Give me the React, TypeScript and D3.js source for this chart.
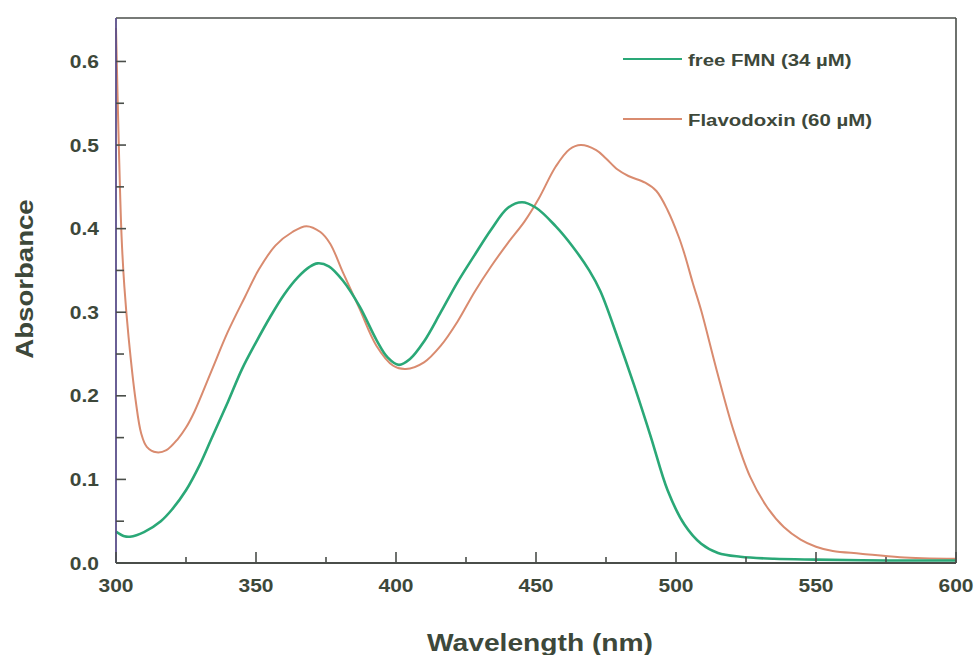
import React from "react";
import * as d3 from "d3";

// Absorbance spectra: wavelength (nm) and absorbance pairs
const fmnWavelength = [300, 303, 305, 310, 316, 320, 325, 330, 334, 340, 345, 350, 355, 360, 365, 369, 372, 376, 381, 387, 393, 397, 401, 405, 410, 416, 422, 428, 434, 440, 445, 450, 457, 463, 469, 473, 479, 485, 491, 497, 503, 509, 515, 523, 535, 550, 575, 600];
const fmnAbsorbance = [0.0375, 0.032, 0.0315, 0.037, 0.05, 0.064, 0.087, 0.118, 0.148, 0.193, 0.232, 0.264, 0.294, 0.321, 0.342, 0.354, 0.3585, 0.355, 0.338, 0.307, 0.267, 0.246, 0.237, 0.244, 0.265, 0.3, 0.336, 0.368, 0.399, 0.425, 0.4315, 0.425, 0.403, 0.379, 0.35, 0.325, 0.271, 0.213, 0.151, 0.087, 0.046, 0.023, 0.012, 0.0075, 0.005, 0.004, 0.003, 0.003];

const fldWavelength = [300, 301, 302, 303, 304.5, 307, 309, 311, 314.5, 318, 322, 325, 328, 334, 340, 346, 351, 357, 363, 368, 373, 376.5, 381, 387, 393, 399, 403.5, 410, 416, 422, 428, 434, 440, 446, 451, 457, 462, 466, 471.5, 475, 479, 483, 489, 493, 497, 501, 503, 506, 509, 514.5, 520.5, 526.5, 532.5, 538.5, 544.5, 550, 556, 566, 580, 600];
const fldAbsorbance = [0.64, 0.5, 0.39, 0.33, 0.27, 0.195, 0.155, 0.139, 0.1324, 0.135, 0.148, 0.162, 0.181, 0.229, 0.277, 0.318, 0.351, 0.38, 0.396, 0.403, 0.396, 0.382, 0.348, 0.304, 0.26, 0.236, 0.232, 0.24, 0.26, 0.289, 0.324, 0.355, 0.383, 0.409, 0.436, 0.474, 0.495, 0.5, 0.494, 0.484, 0.471, 0.463, 0.455, 0.445, 0.422, 0.39, 0.37, 0.335, 0.302, 0.231, 0.159, 0.103, 0.067, 0.043, 0.028, 0.0195, 0.0143, 0.0112, 0.007, 0.005];

const xMajorTicks = [300, 350, 400, 450, 500, 550, 600];
const xMinorTicks = [325, 375, 425, 475, 525, 575];
const yMajorTicks = [0, 0.1, 0.2, 0.3, 0.4, 0.5, 0.6];
const yMinorTicks = [0.05, 0.15, 0.25, 0.35, 0.45, 0.55];

const seriesNames = ["free FMN (34 \u00B5M)", "Flavodoxin (60 \u00B5M)"];
const seriesColors = ["#2aa877", "#d98b6f"];

const W = 977;
const H = 655;
const left = 116;
const right = 956;
const top = 18;
const bottom = 563;

const textColor = "#3d483a";
const axisColor = "#4a4e4a";
const font = "'Liberation Sans', Arial, sans-serif";
const sx = 1.2; // horizontal stretch of the lettering

export default function App() {
  const x = d3.scaleLinear().domain([300, 600]).range([left, right]);
  const y = d3.scaleLinear().domain([0, 0.652]).range([bottom, top]);

  const line = d3
    .line<[number, number]>()
    .x((d) => x(d[0]))
    .y((d) => y(d[1]))
    .curve(d3.curveCatmullRom.alpha(0.5));

  const fmn = fmnWavelength.map((w, i) => [w, fmnAbsorbance[i]] as [number, number]);
  const fld = fldWavelength.map((w, i) => [w, fldAbsorbance[i]] as [number, number]);

  const legendY = [59, 119];

  return (
    <svg
      width={W}
      height={H}
      style={{ position: "absolute", left: 0, top: 0, background: "#fff" }}
    >
      {/* curves */}
      <path d={line(fld) || ""} fill="none" stroke={seriesColors[1]} strokeWidth={2} />
      <path d={line(fmn) || ""} fill="none" stroke={seriesColors[0]} strokeWidth={2.6} />

      {/* frame */}
      <line x1={left} x2={right} y1={top} y2={top} stroke={axisColor} strokeWidth={1.6} />
      <line x1={right} x2={right} y1={top} y2={bottom} stroke={axisColor} strokeWidth={1.6} />
      <line x1={left} x2={right} y1={bottom} y2={bottom} stroke={axisColor} strokeWidth={1.8} />
      <line x1={left} x2={left} y1={top} y2={bottom} stroke="#5a4e8a" strokeWidth={1.8} />

      {/* x ticks */}
      {xMajorTicks.map((t) => (
        <line key={"xM" + t} x1={x(t)} x2={x(t)} y1={bottom} y2={bottom - 11} stroke={axisColor} strokeWidth={1.6} />
      ))}
      {xMinorTicks.map((t) => (
        <line key={"xm" + t} x1={x(t)} x2={x(t)} y1={bottom} y2={bottom - 6} stroke={axisColor} strokeWidth={1.6} />
      ))}
      {xMajorTicks.map((t) => (
        <text
          key={"xl" + t}
          transform={`translate(${x(t)},${bottom + 29}) scale(${sx},1)`}
          textAnchor="middle"
          fontFamily={font}
          fontWeight="bold"
          fontSize={17.5}
          fill={textColor}
        >
          {d3.format("d")(t)}
        </text>
      ))}

      {/* y ticks */}
      {yMajorTicks.map((t) => (
        <line key={"yM" + t} x1={left} x2={left + 10} y1={y(t)} y2={y(t)} stroke={axisColor} strokeWidth={1.6} />
      ))}
      {yMinorTicks.map((t) => (
        <line key={"ym" + t} x1={left} x2={left + 8} y1={y(t)} y2={y(t)} stroke={axisColor} strokeWidth={1.6} />
      ))}
      {yMajorTicks.map((t) => (
        <text
          key={"yl" + t}
          transform={`translate(${99},${y(t) + 6.5}) scale(${sx},1)`}
          textAnchor="end"
          fontFamily={font}
          fontWeight="bold"
          fontSize={17.5}
          fill={textColor}
        >
          {d3.format(".1f")(t)}
        </text>
      ))}

      {/* axis titles */}
      <text
        transform={`translate(${540},${651}) scale(${sx},1)`}
        textAnchor="middle"
        fontFamily={font}
        fontWeight="bold"
        fontSize={23.5}
        fill={textColor}
      >
        Wavelength (nm)
      </text>
      <text
        transform={`translate(${33},${279}) rotate(-90) scale(${sx},1)`}
        textAnchor="middle"
        fontFamily={font}
        fontWeight="bold"
        fontSize={23}
        fill={textColor}
      >
        Absorbance
      </text>

      {/* legend */}
      {seriesNames.map((name, i) => (
        <g key={name}>
          <line x1={623} x2={682} y1={legendY[i]} y2={legendY[i]} stroke={seriesColors[i]} strokeWidth={2} />
          <text
            transform={`translate(${688},${legendY[i] + 7}) scale(${sx},1)`}
            fontFamily={font}
            fontWeight="bold"
            fontSize={17}
            fill={textColor}
          >
            {name}
          </text>
        </g>
      ))}
    </svg>
  );
}
